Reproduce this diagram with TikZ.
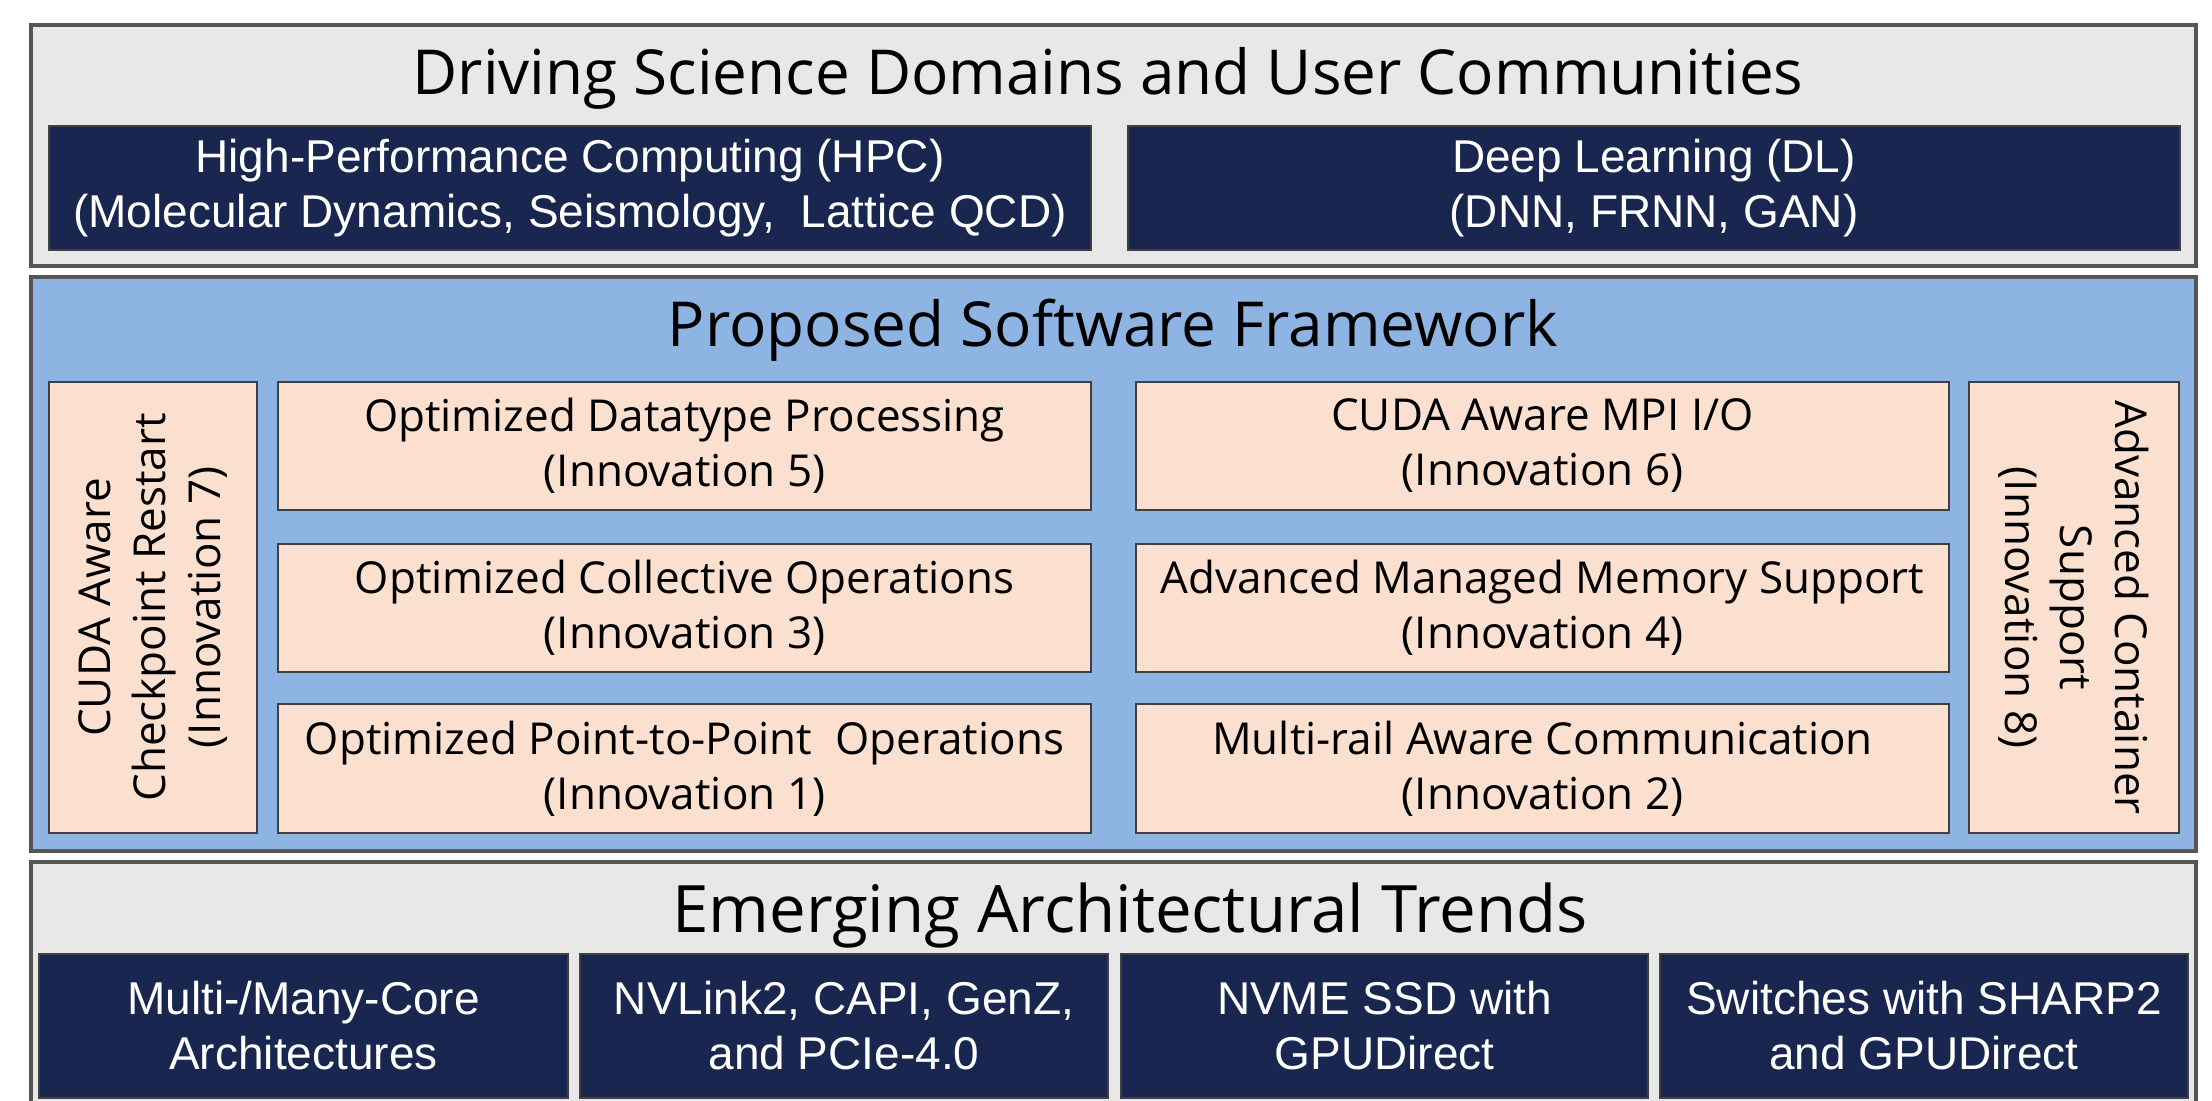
\documentclass[tikz,border=0pt]{standalone}
\usepackage{fontspec}
\setmainfont{Open Sans}
\newfontfamily\wfont{Liberation Sans}
\definecolor{bandgray}{RGB}{232,232,232}
\definecolor{navy}{RGB}{25,39,80}
\definecolor{midblue}{RGB}{141,180,226}
\definecolor{peach}{RGB}{251,224,208}
\definecolor{edgegray}{RGB}{85,85,85}
\tikzset{
  band/.style={draw=edgegray, line width=1.6pt},
  graybandbox/.style={band, fill=bandgray},
  bluebandbox/.style={band, fill=midblue},
  darkbox/.style={draw=black!75, line width=1.2pt, fill=navy, text=white, align=center, inner sep=0pt, outer sep=0pt, font=\wfont\fontsize{23}{27.5}\selectfont},
  peachbox/.style={draw=black!75, line width=1.3pt, fill=peach, text=black, align=center, inner sep=0pt, outer sep=0pt, font=\fontsize{22}{27.5}\selectfont},
  bandtitle/.style={anchor=base, inner sep=0pt, font=\fontsize{31}{37}\selectfont},
}
\newcommand\boxnode[7]{\node[#6, minimum width={(#4-#2)*0.5pt}, minimum height={(#5-#3)*0.5pt}] (#1) at ({(#2+#4)/2},{(#3+#5)/2}) {#7};}
\newcommand\vboxnode[8]{\node[#6, rotate=#7, minimum width={(#5-#3)*0.5pt}, minimum height={(#4-#2)*0.5pt}] (#1) at ({(#2+#4)/2},{(#3+#5)/2}) {#8};}
\begin{document}
\begin{tikzpicture}[x=0.5pt, y=-0.5pt]
\useasboundingbox (0,0) rectangle (2212,1101);
\clip (0,0) rectangle (2212,1101);
\fill[white] (0,0) rectangle (2212,1101);
% bands
\boxnode{topband}{31}{25}{2196}{266}{graybandbox}{}
\boxnode{midband}{31}{277}{2196}{851}{bluebandbox}{}
\boxnode{botband}{31}{862}{2196}{1140}{graybandbox}{}
% titles
\node[bandtitle] (t1) at (1108,95) {Driving Science Domains and User Communities};
\node[bandtitle] (t2) at (1113,347) {Proposed Software Framework};
\node[bandtitle, font=\fontsize{32.7}{38}\selectfont] (t3) at (1130,932) {Emerging Architectural Trends};
% top boxes
\boxnode{hpc}{49}{126}{1091}{250}{darkbox}{High-Performance Computing (HPC)\\(Molecular Dynamics, Seismology,\ \ Lattice QCD)}
\boxnode{dl}{1128}{126}{2180}{250}{darkbox}{Deep Learning (DL)\\(DNN, FRNN, GAN)}
% middle
\vboxnode{ckpt}{49}{382}{257}{833}{peachbox}{90}{CUDA Aware\\Checkpoint Restart\\(Innovation 7)}
\vboxnode{cont}{1969}{382}{2179}{833}{peachbox}{-90}{Advanced Container\\Support\\(Innovation 8)}
\boxnode{dtp}{278}{382}{1091}{510}{peachbox}{Optimized Datatype Processing\\(Innovation 5)}
\boxnode{coll}{278}{544}{1091}{672}{peachbox}{Optimized Collective Operations\\(Innovation 3)}
\boxnode{ptp}{278}{704}{1091}{833}{peachbox}{Optimized Point-to-Point\ \ Operations\\(Innovation 1)}
\boxnode{mpiio}{1136}{382}{1949}{510}{peachbox}{CUDA Aware MPI I/O\\(Innovation 6)}
\boxnode{mm}{1136}{544}{1949}{672}{peachbox}{Advanced Managed Memory Support\\(Innovation 4)}
\boxnode{mr}{1136}{704}{1949}{833}{peachbox}{Multi-rail Aware Communication\\(Innovation 2)}
% bottom boxes
\boxnode{mc}{39}{954}{568}{1098}{darkbox}{Multi-/Many-Core\\Architectures}
\boxnode{nvl}{580}{954}{1108}{1098}{darkbox}{NVLink2, CAPI, GenZ,\\and PCIe-4.0}
\boxnode{nvme}{1121}{954}{1648}{1098}{darkbox}{NVME SSD with\\GPUDirect}
\boxnode{sw}{1660}{954}{2188}{1098}{darkbox}{Switches with SHARP2\\and GPUDirect}
\end{tikzpicture}
\end{document}
